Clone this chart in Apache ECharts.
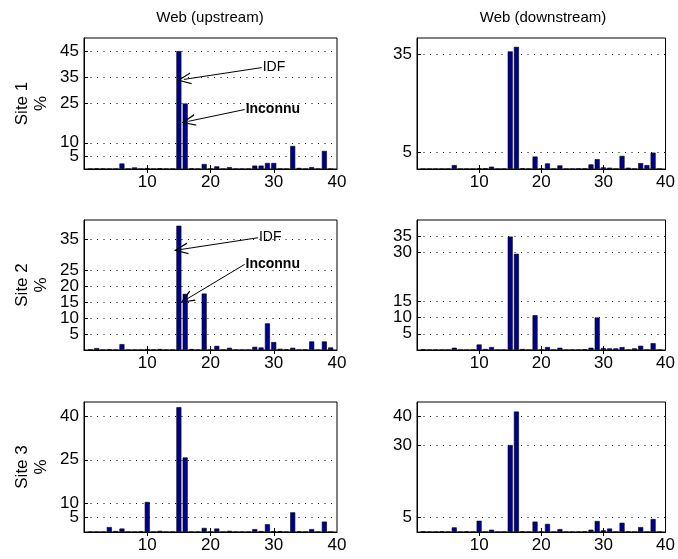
<!DOCTYPE html>
<html>
<head>
<meta charset="utf-8">
<script src="https://cdn.jsdelivr.net/npm/echarts@6/dist/echarts.min.js"></script>
<style>
html, body { margin: 0; padding: 0; background: #fff; }
#chart { width: 678px; height: 559px; }
</style>
</head>
<body>
<div id="chart"></div>
<script>
// positions des barres (1..39)
var binPos = [1, 2, 3, 4, 5, 6, 7, 8, 9, 10, 11, 12, 13, 14, 15, 16, 17, 18, 19, 20,
              21, 22, 23, 24, 25, 26, 27, 28, 29, 30, 31, 32, 33, 34, 35, 36, 37, 38, 39];

// Site 1
var site1Up   = [0, 0.2, 0.1, 0, 0, 2.1, 0, 0.6, 0, 0.3, 0, 0.3, 0, 0, 45, 25, 0.2, 0, 1.9, 0,
                 1.0, 0, 0.7, 0, 0, 0, 1.3, 1.3, 2.3, 2.3, 0.1, 0, 8.8, 0.4, 0, 0.7, 0, 6.9, 0];
var site1Down = [0, 0, 0, 0, 0, 1.2, 0, 0, 0, 0.2, 0.2, 0.7, 0, 0, 35.9, 37.3, 0.2, 0, 3.8, 0.1,
                 1.7, 0, 1.1, 0, 0, 0.1, 0.1, 1.4, 3.0, 0.5, 0.4, 0, 4.0, 0.4, 0, 1.8, 1.2, 5.0, 0];
// Site 2
var site2Up   = [0.2, 0.6, 0, 0.2, 0, 1.85, 0, 0, 0, 0.3, 0.1, 0.3, 0, 0, 39.2, 17.7, 0.3, 0, 17.8, 0,
                 1.3, 0, 0.7, 0, 0, 0, 1.0, 0.8, 8.4, 2.5, 0.4, 0.2, 0.7, 0, 0.1, 2.7, 0, 2.7, 0.8];
var site2Down = [0.2, 0, 0, 0, 0, 0.7, 0, 0, 0, 1.7, 0.3, 0.9, 0, 0, 34.9, 29.6, 0.3, 0, 10.7, 0,
                 0.9, 0, 0.7, 0, 0, 0, 0.2, 0.7, 10.0, 0.6, 0.5, 0.5, 0.9, 0, 0.5, 1.3, 0, 2.1, 0];
// Site 3
var site3Up   = [0, 0, 0, 1.7, 0.3, 1.2, 0, 0, 0.2, 10.4, 0, 0.4, 0, 0, 43.2, 25.8, 0, 0, 1.4, 0,
                 1.2, 0, 0.4, 0, 0, 0, 1.0, 0.3, 2.7, 0.3, 0.3, 0, 6.8, 0.2, 0, 1.0, 0, 3.6, 0];
var site3Down = [0.2, 0, 0, 0.2, 0, 1.6, 0, 0.2, 0, 3.9, 0, 0.8, 0, 0, 30.1, 41.7, 0.2, 0, 3.6, 0,
                 2.8, 0, 1.0, 0, 0, 0, 0.2, 0.8, 3.8, 0.6, 1.2, 0, 3.2, 0.2, 0, 1.7, 0, 4.5, 0];

// graduations
var xTickLabels = [10, 20, 30, 40];
var xTickMarks = [10, 20, 30];
var yTicksSite1Up   = [5, 10, 25, 35, 45];
var yTicksSite1Down = [5, 35];
var yTicksSite2Up   = [5, 10, 15, 20, 25, 35];
var yTicksSite2Down = [5, 10, 15, 30, 35];
var yTicksSite3Up   = [5, 10, 25, 40];
var yTicksSite3Down = [5, 30, 40];

var columnTitles = ['Web (upstream)', 'Web (downstream)'];
var rowNames = ['Site 1', 'Site 2', 'Site 3'];

// flèches IDF / Inconnu (coordonnées dans l'espace des données)
var arrowsSite1 = [
    { text: 'IDF', bold: false, from: [28.1, 38.7], to: [15.8, 34.2] },
    { text: 'Inconnu', bold: true, from: [25.4, 22.7], to: [16.5, 18.2] }
];
var arrowsSite2 = [
    { text: 'IDF', bold: false, from: [27.5, 35.4], to: [15.3, 31.7] },
    { text: 'Inconnu', bold: true, from: [25.4, 27.0], to: [16.2, 16.0] }
];

var panels = [
    { vals: site1Up,   ticks: yTicksSite1Up,   max: 50, col: 0, row: 0, arrows: arrowsSite1 },
    { vals: site1Down, ticks: yTicksSite1Down, max: 40, col: 1, row: 0 },
    { vals: site2Up,   ticks: yTicksSite2Up,   max: 41, col: 0, row: 1, arrows: arrowsSite2 },
    { vals: site2Down, ticks: yTicksSite2Down, max: 40, col: 1, row: 1 },
    { vals: site3Up,   ticks: yTicksSite3Up,   max: 45, col: 0, row: 2 },
    { vals: site3Down, ticks: yTicksSite3Down, max: 45, col: 1, row: 2 }
];

var fontFam = '"Liberation Sans", Arial, Helvetica, sans-serif';
var lefts = [84, 417], widths = [253, 253];
var tops = [38, 220, 402], heights = [131, 130, 130];
var arrowHead = 'path://M0,14 L6,0 L12,14 L10.6,14 L6,2.8 L1.4,14 Z';

var grids = [], xAxes = [], yAxes = [], series = [];

function yAxisFor(i, p, vals, main) {
    return {
        gridIndex: i, type: 'value', min: 0, max: p.max, position: 'left', offset: 0,
        axisLine: { show: main, lineStyle: { color: '#000', width: 1 } },
        axisTick: { show: true, inside: true, length: 4, customValues: vals, lineStyle: { color: '#000' } },
        axisLabel: { customValues: vals, hideOverlap: false, color: '#000', fontSize: 17, fontFamily: fontFam, margin: 5 },
        splitLine: { show: false }
    };
}

panels.forEach(function (p, i) {
    grids.push({
        left: lefts[p.col], top: tops[p.row], width: widths[p.col], height: heights[p.row],
        show: true, borderColor: '#000', borderWidth: 1, backgroundColor: '#fff'
    });
    xAxes.push({
        gridIndex: i, type: 'value', min: 0, max: 40,
        axisLine: { show: true, onZero: false, lineStyle: { color: '#000', width: 1 } },
        axisTick: { show: true, inside: true, length: 4, customValues: xTickMarks, lineStyle: { color: '#000' } },
        axisLabel: { customValues: xTickLabels, hideOverlap: false, color: '#000', fontSize: 17, fontFamily: fontFam, margin: 5 },
        splitLine: { show: false }
    });
    // les étiquettes voisines se chevauchent : on les répartit sur deux axes superposés
    var ya = yAxisFor(i, p, p.ticks.filter(function (v, k) { return k % 2 === 0; }), true);
    if (p.col === 0) {
        ya.name = rowNames[p.row] + '\n%';
        ya.nameLocation = 'middle';
        ya.nameRotate = 90;
        ya.nameGap = 33;
        ya.nameMoveOverlap = false;
        ya.nameTextStyle = { color: '#000', fontSize: 17, fontFamily: fontFam, lineHeight: 19 };
    }
    yAxes.push(ya);

    // lignes de grille pointillées
    series.push({
        type: 'line', xAxisIndex: i, yAxisIndex: i, data: [], z: 1, silent: true,
        markLine: {
            silent: true, z: 1, symbol: ['none', 'none'], label: { show: false },
            lineStyle: { color: '#000', type: [1, 5.5], width: 1 },
            data: p.ticks.map(function (v) { return { yAxis: v }; })
        }
    });

    series.push({
        type: 'bar', xAxisIndex: i, yAxisIndex: i, z: 3, silent: true,
        barWidth: 5,
        itemStyle: { color: '#00008f', borderColor: '#000', borderWidth: 0.6 },
        data: binPos.map(function (x, k) { return [x, p.vals[k]]; })
    });

    if (p.arrows) {
        series.push({
            type: 'line', xAxisIndex: i, yAxisIndex: i, data: [], z: 5, silent: true,
            markLine: {
                silent: true, symbol: ['none', arrowHead], symbolSize: [12, 14],
                lineStyle: { color: '#000', type: 'solid', width: 1 },
                label: { show: true, position: 'start', distance: 1, color: '#000', fontSize: 14, fontFamily: fontFam,
                         formatter: function (prm) { return prm.name; } },
                emphasis: { disabled: true },
                data: p.arrows.map(function (a) {
                    return [
                        { name: a.text, coord: a.from, label: { fontWeight: a.bold ? 'bold' : 'normal' } },
                        { coord: a.to }
                    ];
                })
            }
        });
    }
});

panels.forEach(function (p, i) {
    // petites graduations sur le bord haut de chaque cadre
    xAxes.push({
        gridIndex: i, type: 'value', min: 0, max: 40, position: 'top',
        axisLine: { show: false },
        axisTick: { show: true, inside: true, length: 4, customValues: xTickMarks, lineStyle: { color: '#000' } },
        axisLabel: { show: false },
        splitLine: { show: false }
    });
    // second axe y : les autres étiquettes
    var rest = p.ticks.filter(function (v, k) { return k % 2 === 1; });
    if (rest.length) {
        yAxes.push(yAxisFor(i, p, rest, false));
    }
});

var chart = echarts.init(document.getElementById('chart'), null, { renderer: 'canvas' });
chart.setOption({
    backgroundColor: '#fff',
    animation: false,
    title: [
        { text: columnTitles[0], left: 210, top: 10, textAlign: 'center', padding: 0,
          textStyle: { fontSize: 15, fontWeight: 'normal', color: '#000', fontFamily: fontFam } },
        { text: columnTitles[1], left: 543, top: 10, textAlign: 'center', padding: 0,
          textStyle: { fontSize: 15, fontWeight: 'normal', color: '#000', fontFamily: fontFam } }
    ],
    grid: grids,
    xAxis: xAxes,
    yAxis: yAxes,
    series: series
});
</script>
</body>
</html>
